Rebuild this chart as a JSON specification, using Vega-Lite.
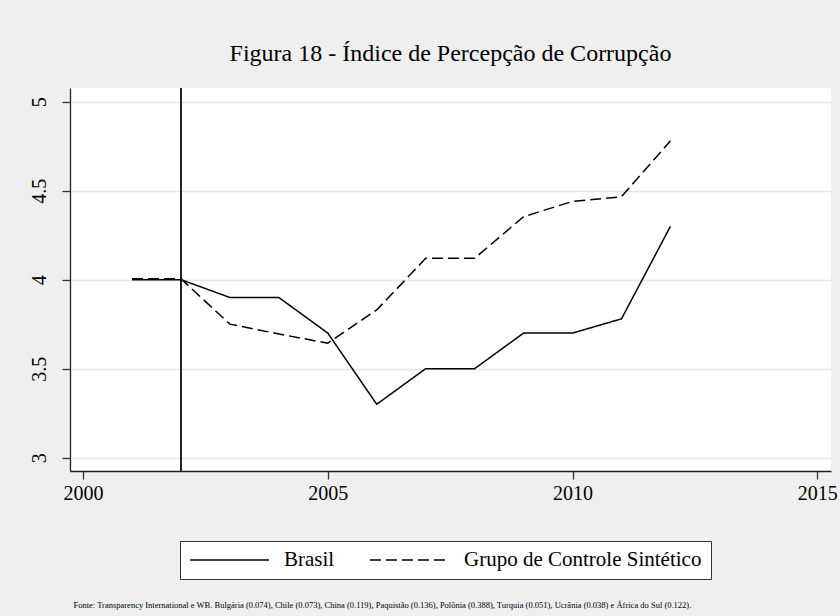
{
  "$schema": "https://vega.github.io/schema/vega-lite/v6.json",
  "width": 761,
  "height": 383,
  "autosize": {"type": "none"},
  "padding": {"left": 70, "top": 88, "right": 9, "bottom": 145},
  "background": "#efefef",
  "title": {
    "text": "Figura 18 - Índice de Percepção de Corrupção",
    "font": "Liberation Serif",
    "fontSize": 24,
    "fontWeight": "normal",
    "color": "#000000",
    "anchor": "middle",
    "offset": 21
  },
  "data": {
    "values": [
      {"ano": 2001, "serie": "Brasil", "ipc": 4.0},
      {"ano": 2002, "serie": "Brasil", "ipc": 4.0},
      {"ano": 2003, "serie": "Brasil", "ipc": 3.9},
      {"ano": 2004, "serie": "Brasil", "ipc": 3.9},
      {"ano": 2005, "serie": "Brasil", "ipc": 3.7},
      {"ano": 2006, "serie": "Brasil", "ipc": 3.3},
      {"ano": 2007, "serie": "Brasil", "ipc": 3.5},
      {"ano": 2008, "serie": "Brasil", "ipc": 3.5},
      {"ano": 2009, "serie": "Brasil", "ipc": 3.7},
      {"ano": 2010, "serie": "Brasil", "ipc": 3.7},
      {"ano": 2011, "serie": "Brasil", "ipc": 3.78},
      {"ano": 2012, "serie": "Brasil", "ipc": 4.3},
      {"ano": 2001, "serie": "Grupo de Controle Sintético", "ipc": 4.005},
      {"ano": 2002, "serie": "Grupo de Controle Sintético", "ipc": 4.005},
      {"ano": 2003, "serie": "Grupo de Controle Sintético", "ipc": 3.75},
      {"ano": 2004, "serie": "Grupo de Controle Sintético", "ipc": 3.695},
      {"ano": 2005, "serie": "Grupo de Controle Sintético", "ipc": 3.643},
      {"ano": 2006, "serie": "Grupo de Controle Sintético", "ipc": 3.83},
      {"ano": 2007, "serie": "Grupo de Controle Sintético", "ipc": 4.12},
      {"ano": 2008, "serie": "Grupo de Controle Sintético", "ipc": 4.12},
      {"ano": 2009, "serie": "Grupo de Controle Sintético", "ipc": 4.354},
      {"ano": 2010, "serie": "Grupo de Controle Sintético", "ipc": 4.44},
      {"ano": 2011, "serie": "Grupo de Controle Sintético", "ipc": 4.466},
      {"ano": 2012, "serie": "Grupo de Controle Sintético", "ipc": 4.78}
    ]
  },
  "layer": [
    {
      "mark": {"type": "rule", "color": "#222222", "strokeWidth": 1.3},
      "encoding": {"x": {"datum": 2002, "type": "quantitative"}}
    },
    {
      "mark": {"type": "line", "color": "#000000", "strokeWidth": 1.5},
      "encoding": {
        "x": {
          "field": "ano",
          "type": "quantitative",
          "scale": {"domain": [1999.734, 2015.28], "nice": false, "zero": false},
          "axis": {
            "values": [2000, 2005, 2010, 2015],
            "format": "d",
            "grid": false,
            "title": "Fonte: Transparency International e WB. Bulgária (0.074), Chile (0.073), China (0.119), Paquistão (0.136), Polônia (0.388), Turquia (0.051), Ucrânia (0.038) e África do Sul (0.122).",
            "titleFont": "Liberation Serif",
            "titleFontSize": 8.5,
            "titleFontWeight": "normal",
            "titleColor": "#000000",
            "titleAnchor": "start",
            "titleAlign": "left",
            "titleBaseline": "middle",
            "titleX": 3,
            "titleY": 133
          }
        },
        "y": {
          "field": "ipc",
          "type": "quantitative",
          "scale": {"domain": [2.925, 5.077], "nice": false, "zero": false},
          "axis": {
            "values": [3, 3.5, 4, 4.5, 5],
            "format": "~g",
            "title": null,
            "labelAngle": -90,
            "labelAlign": "center",
            "labelBaseline": "bottom",
            "labelPadding": 13
          }
        },
        "strokeDash": {
          "field": "serie",
          "type": "nominal",
          "scale": {"domain": ["Brasil", "Grupo de Controle Sintético"], "range": [[1, 0], [11, 5]]},
          "legend": {
            "title": null,
            "orient": "none",
            "legendX": 110,
            "legendY": 453,
            "direction": "horizontal",
            "symbolType": "stroke",
            "symbolSize": 6241,
            "clipHeight": 20,
            "symbolStrokeWidth": 1.5,
            "symbolStrokeColor": "#000000",
            "labelFont": "Liberation Serif",
            "labelFontSize": 21,
            "labelColor": "#000000",
            "labelLimit": 400,
            "labelOffset": 14,
            "columnPadding": 34,
            "padding": 9,
            "fillColor": "#ffffff",
            "strokeColor": "#333333"
          }
        }
      }
    }
  ],
  "config": {
    "font": "Liberation Serif",
    "view": {"fill": "#ffffff", "stroke": null},
    "legend": {"labelFont": "Liberation Serif", "labelFontSize": 21},
    "axis": {
      "labelFont": "Liberation Serif",
      "labelFontSize": 20,
      "labelColor": "#000000",
      "domainColor": "#222222",
      "domainWidth": 1.3,
      "tickColor": "#333333",
      "tickSize": 8,
      "tickWidth": 1.3,
      "gridColor": "#e6e6e6",
      "gridWidth": 1.5
    },
    "axisX": {"labelPadding": 4},
    "axisY": {"grid": true}
  }
}
